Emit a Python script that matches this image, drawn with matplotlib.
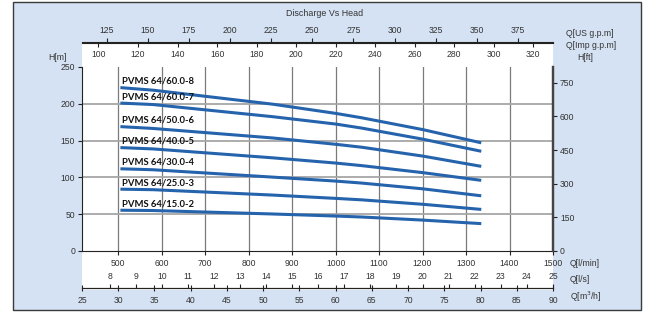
import matplotlib.pyplot as plt
from matplotlib.patches import Rectangle

# flow in l/min, head in m
flow = [505, 580, 855, 1000, 1060, 1200, 1335]
pumps = ["PVMS 64/60.0-8", "PVMS 64/60.0-7", "PVMS 64/50.0-6", "PVMS 64/40.0-5",
         "PVMS 64/30.0-4", "PVMS 64/25.0-3", "PVMS 64/15.0-2"]
heads = [
    [222, 218.5, 199.5, 187, 181, 165, 147],
    [201, 199, 182.5, 172.5, 167, 152, 135.5],
    [169, 166.5, 153.6, 145, 141, 129, 115],
    [140.5, 138.7, 126.6, 119.5, 116, 106.5, 96],
    [111.7, 110.4, 100.4, 95, 92.3, 84.5, 75],
    [84, 83.3, 76, 71.5, 69.5, 63.5, 56.5],
    [55.4, 55, 50.3, 47.5, 46.2, 42, 37.2],
]
lmin_ticks = list(range(500, 1600, 100))
lps_ticks = list(range(8, 26))
m3h_ticks = list(range(25, 95, 5))
usgpm_ticks = list(range(125, 400, 25))
impgpm_ticks = list(range(100, 340, 20))
hm_ticks = list(range(0, 300, 50))
hft_ticks = list(range(0, 900, 150))

W, H = 649, 312
QMIN, QMAX = 25 * 1000 / 60, 1500
HMAX = 250
BLUE = '#d5e2f3'
TXT = '#333333'
LINE = '#2563ad'
FS = 6.2

plt.rcParams['font.family'] = 'Liberation Sans'
plt.rcParams['font.size'] = FS
plt.rcParams['text.color'] = TXT
plt.rcParams['xtick.color'] = '#222222'
plt.rcParams['ytick.color'] = '#222222'
plt.rcParams['xtick.labelcolor'] = TXT
plt.rcParams['ytick.labelcolor'] = TXT


def fx(x):
    return x / W


def fy(y):
    return 1 - y / H


fig = plt.figure(figsize=(W / 100, H / 100), dpi=100, facecolor='white')
# blue frame and white plotting panel
fig.patches.append(Rectangle((fx(13), fy(310)), fx(641) - fx(13), fy(2) - fy(310),
                             transform=fig.transFigure, facecolor=BLUE,
                             edgecolor='#3a3a3a', lw=1, zorder=-3))
fig.patches.append(Rectangle((fx(82), fy(290)), fx(553) - fx(82), fy(43) - fy(290),
                             transform=fig.transFigure, facecolor='white',
                             edgecolor='none', zorder=-2))

x0, x1, y0, y1 = 82, 553, 67, 251
ax = fig.add_axes([fx(x0), fy(y1), fx(x1) - fx(x0), fy(y0) - fy(y1)])
ax.set_xlim(QMIN, QMAX)
ax.set_ylim(0, HMAX)
ax.set_facecolor('white')

for name, h in zip(pumps, heads):
    ax.plot(flow, h, color=LINE, lw=2.2, solid_capstyle='butt',
            solid_joinstyle='round', zorder=3)
    ax.text(flow[0] + 3, h[0] + 2.5, name, fontsize=6.8, fontweight='bold',
            family='Lato', color='#111111', va='bottom', ha='left', zorder=4)

ax.set_xticks(lmin_ticks)
ax.set_yticks(hm_ticks)
ax.tick_params(axis='x', length=3, width=0.8, pad=3, labelsize=FS)
ax.tick_params(axis='y', length=3, width=0.8, pad=2, labelsize=FS)
for v in lmin_ticks[:-1]:
    ax.axvline(v, color='#7a7a7a', lw=0.9, zorder=1)
for v in hm_ticks[1:-1]:
    ax.axhline(v, color='#a6a6a6', lw=1.3, zorder=1)
ax.spines['top'].set_visible(False)
ax.spines['left'].set_color('#222222')
ax.spines['left'].set_linewidth(0.8)
ax.spines['bottom'].set_color('#222222')
ax.spines['bottom'].set_linewidth(0.8)
ax.spines['right'].set_color('#444444')
ax.spines['right'].set_linewidth(1.6)

axr = ax.twinx()
axr.set_ylim(0, HMAX * 3.28084)
axr.set_yticks(hft_ticks)
axr.tick_params(axis='y', length=3, width=0.8, pad=2, labelsize=FS)
for s in ['top', 'left', 'bottom']:
    axr.spines[s].set_visible(False)
axr.spines['right'].set_color('#444444')
axr.spines['right'].set_linewidth(1.6)


def scale(y_px, factor, ticks, side, direction='out', length=3, pad=2.5):
    a = fig.add_axes([fx(x0), fy(y_px), fx(x1) - fx(x0), 1e-6])
    a.set_xlim(QMIN / factor, QMAX / factor)
    a.set_facecolor('none')
    a.set_yticks([])
    for s in a.spines.values():
        s.set_visible(False)
    a.spines[side].set_visible(True)
    a.spines[side].set_color('#222222')
    a.spines[side].set_linewidth(0.8)
    a.xaxis.set_ticks_position(side)
    a.set_xticks(ticks)
    a.tick_params(axis='x', direction=direction, length=length, width=0.8,
                  pad=pad, labelsize=FS)
    return a


scale(42.5, 3.78541, usgpm_ticks, 'top')
scale(42.5, 4.54609, impgpm_ticks, 'bottom')
scale(288, 60, lps_ticks, 'top', pad=2)
scale(288, 1000 / 60, m3h_ticks, 'bottom', direction='inout', length=5, pad=3)

fig.text(fx(325), fy(14), "Discharge Vs Head", ha='center', va='center', fontsize=6.4)
fig.text(fx(57), fy(57), "H[m]", ha='center', va='center')
fig.text(fx(566), fy(33), "Q[US g.p.m]", ha='left', va='center')
fig.text(fx(566), fy(46), "Q[Imp g.p.m]", ha='left', va='center')
fig.text(fx(577), fy(57), "H[ft]", ha='left', va='center')
fig.text(fx(570), fy(263), "Q[l/min]", ha='left', va='center')
fig.text(fx(570), fy(279), "Q[l/s]", ha='left', va='center')
fig.text(fx(570), fy(297), "Q[m$^3$/h]", ha='left', va='center')

fig.savefig('out.png', dpi=100)
